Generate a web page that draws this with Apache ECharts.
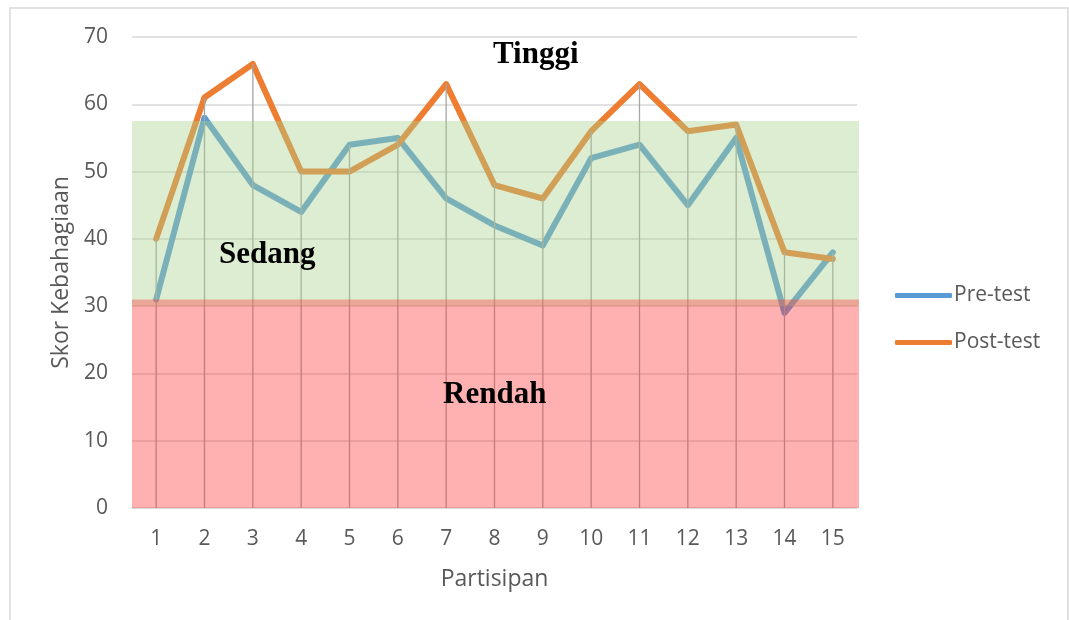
<!DOCTYPE html>
<html>
<head>
<meta charset="utf-8">
<script src="https://cdn.jsdelivr.net/npm/echarts@6/dist/echarts.min.js"></script>
<style>
  html, body { margin: 0; padding: 0; background: #fff; }
  #chart { width: 1069px; height: 620px; }
</style>
</head>
<body>
<div id="chart"></div>
<script>
// data
const participants = ['1','2','3','4','5','6','7','8','9','10','11','12','13','14','15']
const preTest  = [31, 58, 48, 44, 54, 55, 46, 42, 39, 52, 54, 45, 55, 29, 38]
const postTest = [40, 61, 66, 50, 50, 54, 63, 48, 46, 56, 63, 56, 57, 38, 37]
const yTicks = [0, 10, 20, 30, 40, 50, 60, 70]
// category bands: [from, to]
const bandNames = ['Sedang', 'Rendah']
const bandRanges = [[30, 57.5], [0, 31]]

// drop lines go from the higher of the two points down to the axis
const dropLines = preTest.map((v, i) => Math.max(v, postTest[i]))

const bandColors = {
  Sedang: 'rgba(169,209,142,0.4)',
  Rendah: 'rgba(255,60,60,0.4)'
}

const chart = echarts.init(document.getElementById('chart'))

const labelText = (txt, x, y) => ({
  type: 'text',
  left: x, top: y,
  z: 100,
  style: {
    text: txt,
    font: 'bold 31px "Liberation Serif", "Times New Roman", serif',
    fill: '#000',
    shadowColor: 'rgba(0,0,0,0.45)',
    shadowBlur: 3,
    shadowOffsetX: 2,
    shadowOffsetY: 2
  }
})

// translucent band across the whole plot width, over the lines
const renderBand = (params, api) => {
  const cs = params.coordSys
  const top = api.coord([0, api.value(1)])[1]
  const bottom = api.coord([0, api.value(0)])[1]
  return {
    type: 'rect',
    shape: { x: cs.x, y: top, width: cs.width + 2, height: bottom - top },
    style: { fill: bandColors[bandNames[params.dataIndex]] }
  }
}

const option = {
  backgroundColor: '#fff',
  animation: false,
  textStyle: { fontFamily: '"Open Sans", "Liberation Sans", sans-serif' },
  grid: { left: 132, right: 212, top: 37, bottom: 112 },
  legend: {
    data: ['Pre-test', 'Post-test'],
    orient: 'vertical',
    left: 895, top: 285,
    padding: 0,
    itemWidth: 57, itemHeight: 5, itemGap: 26,
    icon: 'roundRect',
    textStyle: { color: '#595959', fontSize: 21, padding: [0, 0, 0, -3] }
  },
  xAxis: {
    type: 'category',
    data: participants,
    boundaryGap: true,
    name: 'Partisipan',
    nameLocation: 'middle',
    nameGap: 60,
    nameTextStyle: { color: '#595959', fontSize: 23 },
    axisLine: { lineStyle: { color: '#D9D9D9', width: 1.5 } },
    axisTick: { show: false },
    axisLabel: { color: '#595959', fontSize: 21, margin: 21 }
  },
  yAxis: {
    type: 'value',
    min: yTicks[0], max: yTicks[yTicks.length - 1], interval: 10,
    name: 'Skor Kebahagiaan',
    nameLocation: 'middle',
    nameGap: 54,
    nameTextStyle: { color: '#595959', fontSize: 23 },
    axisLine: { show: false },
    axisTick: { show: false },
    axisLabel: { color: '#595959', fontSize: 21, margin: 24 },
    splitLine: { lineStyle: { color: '#D9D9D9', width: 1.5 } }
  },
  series: [
    {
      name: 'Pre-test',
      type: 'line',
      data: preTest,
      z: 2,
      symbol: 'none',
      color: '#5B9BD5',
      lineStyle: { width: 6, color: '#5B9BD5', cap: 'round', join: 'round' }
    },
    {
      name: 'Post-test',
      type: 'line',
      data: postTest,
      z: 2,
      symbol: 'none',
      color: '#ED7D31',
      lineStyle: { width: 6, color: '#ED7D31', cap: 'round', join: 'round' }
    },
    {
      name: 'drop',
      type: 'bar',
      data: dropLines,
      z: 3,
      barWidth: 1.3,
      itemStyle: { color: '#A5A5A5' },
      silent: true
    },
    {
      name: 'bands',
      type: 'custom',
      data: bandRanges,
      z: 10,
      silent: true,
      clip: false,
      renderItem: renderBand
    }
  ],
  graphic: [
    {
      type: 'rect',
      shape: { x: 10, y: 8, width: 1058, height: 640 },
      style: { fill: 'none', stroke: '#D9D9D9', lineWidth: 1.5 },
      silent: true
    },
    labelText('Tinggi', 493, 39),
    labelText('Sedang', 219, 239),
    labelText('Rendah', 443, 379)
  ]
}

chart.setOption(option)
</script>
</body>
</html>
